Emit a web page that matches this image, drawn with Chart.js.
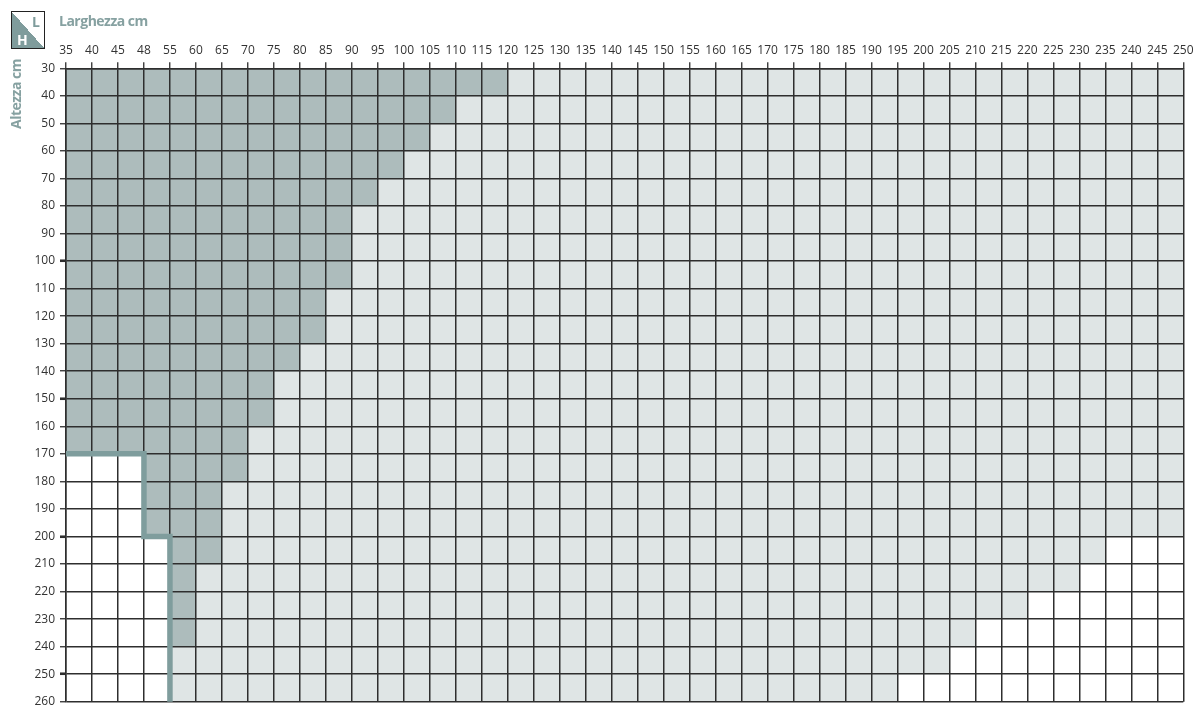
<!DOCTYPE html>
<html>
<head>
<meta charset="utf-8">
<title>Larghezza / Altezza</title>
<script src="https://cdn.jsdelivr.net/npm/chart.js@4.4.1/dist/chart.umd.min.js"></script>
<style>
  html, body { margin: 0; padding: 0; background: #fff; }
  .wrap { position: relative; width: 1196px; height: 706px; font-family: "Open Sans", sans-serif; }
  .wrap canvas { position: absolute; left: 0; top: 0; }
  .corner {
    position: absolute; left: 11px; top: 11px; width: 32px; height: 36px;
    border: 1.5px solid #222;
    background: linear-gradient(to top right, #7f9c9c 50%, #fff 50%);
  }
  .corner span { position: absolute; font-weight: 700; font-size: 14px; line-height: 14px; }
  .corner .l { left: 20px; top: 3px; color: #7f9c9c; }
  .corner .h { left: 5px; top: 21px; color: #fff; }
  .title-x {
    position: absolute; left: 59px; top: 12px; font-weight: 700; font-size: 14px; line-height: 18px;
    letter-spacing: -0.5px; color: #86a1a1;
  }
  .title-y {
    position: absolute; left: 8px; top: 129px; font-weight: 700; font-size: 14px; line-height: 16px;
    letter-spacing: -0.5px; color: #86a1a1;
    transform-origin: left top; transform: rotate(-90deg); white-space: nowrap;
  }
</style>
</head>
<body>
<div class="wrap">
  <canvas id="grid" width="1196" height="706"></canvas>
  <div class="corner"><span class="l">L</span><span class="h">H</span></div>
  <div class="title-x">Larghezza cm</div>
  <div class="title-y">Altezza cm</div>
</div>
<script>
//width tick labels (grid lines), note 48 instead of 50
const widthLabels = [35, 40, 45, 48, 55, 60, 65, 70, 75, 80, 85, 90, 95, 100, 105, 110, 115, 120, 125, 130,
  135, 140, 145, 150, 155, 160, 165, 170, 175, 180, 185, 190, 195, 200, 205, 210, 215, 220, 225, 230,
  235, 240, 245, 250];

//height tick labels
const heightLabels = [30, 40, 50, 60, 70, 80, 90, 100, 110, 120, 130, 140, 150, 160, 170, 180, 190, 200,
  210, 220, 230, 240, 250, 260];

//for every column of cells: height where the dark zone stops
const darkTo = [170, 170, 170, 200, 240, 210, 180, 160, 140, 130, 110, 80, 70, 60, 50, 40, 40,
  30, 30, 30, 30, 30, 30, 30, 30, 30, 30, 30, 30, 30, 30, 30, 30, 30, 30, 30, 30, 30, 30, 30, 30, 30, 30];

//for every column of cells: height where the light zone stops (white below)
const lightTo = [170, 170, 170, 200,
  260, 260, 260, 260, 260, 260, 260, 260, 260, 260, 260, 260, 260, 260, 260, 260, 260, 260, 260, 260,
  260, 260, 260, 260, 260, 260, 260, 260,
  250, 250, 240, 230, 230, 220, 220, 210, 200, 200, 200];

//thick limit line (width, height)
const limitWidths = [35, 48, 48, 55, 55];
const limitHeights = [170, 170, 200, 200, 260];

const hMin = heightLabels[0];
const hMax = heightLabels[heightLabels.length - 1];

//bars sit in the middle of each cell column (index axis)
const darkData = darkTo.map((d, i) => ({ x: i + 0.5, y: [hMin, d] }));
const lightData = lightTo.map((l, i) => ({ x: i + 0.5, y: [darkTo[i], l] }));
const whiteData = lightTo.map((l, i) => ({ x: i + 0.5, y: [l, hMax] }));
const limitData = limitWidths.map((w, i) => ({ x: widthLabels.indexOf(w), y: limitHeights[i] }));

const gridColor = "#2e2e2e";
const tickFont = { family: "'Open Sans', sans-serif", size: 12 };
const boldTicks = [100, 150, 200, 250];

//grid is drawn over the cells, so paint the limit line once more on top
const lineOnTop = {
  id: "lineOnTop",
  afterDraw(chart) {
    const meta = chart.getDatasetMeta(3);
    chart.ctx.save();
    meta.controller.draw();
    chart.ctx.restore();
  },
};

new Chart(document.getElementById("grid"), {
  type: "bar",
  data: {
    datasets: [
      { label: "scuro", data: darkData, backgroundColor: "#adbcbc" },
      { label: "chiaro", data: lightData, backgroundColor: "#dfe5e5" },
      { label: "bianco", data: whiteData, backgroundColor: "#ffffff" },
      {
        type: "line",
        label: "limite",
        data: limitData,
        borderColor: "#7f9d9d",
        borderWidth: 5.5,
        pointRadius: 0,
        fill: false,
        tension: 0,
        borderCapStyle: "butt",
        borderJoinStyle: "miter",
      },
    ],
  },
  options: {
    responsive: false,
    animation: false,
    devicePixelRatio: 1,
    layout: { padding: { left: 0, top: 0, right: 12.7, bottom: 4.3 } },
    datasets: {
      bar: { grouped: false, barPercentage: 1, categoryPercentage: 1, borderWidth: 0 },
    },
    plugins: { legend: { display: false }, tooltip: { enabled: false } },
    scales: {
      x: {
        type: "linear",
        position: "top",
        min: 0,
        max: widthLabels.length - 1,
        offset: false,
        ticks: {
          stepSize: 1,
          autoSkip: false,
          maxRotation: 0,
          padding: 5,
          color: "#333",
          font: tickFont,
          callback: (v) => widthLabels[v],
        },
        grid: { z: 1, offset: false, color: gridColor, lineWidth: 1.5, tickLength: 6, tickWidth: 1.3 },
        border: { z: 1, color: gridColor, width: 1.5 },
        afterFit: (s) => {
          s.height = 68.3;
          s.paddingLeft = 0;
          s.paddingRight = 0;
        },
      },
      y: {
        type: "linear",
        reverse: true,
        min: hMin,
        max: hMax,
        ticks: {
          stepSize: 10,
          autoSkip: false,
          padding: 5,
          color: "#333",
          font: tickFont,
        },
        grid: {
          z: 1,
          color: gridColor,
          lineWidth: 1.5,
          tickLength: 6,
          tickWidth: (ctx) => (ctx.tick && boldTicks.includes(ctx.tick.value) ? 2.6 : 1.3),
        },
        border: { z: 1, color: gridColor, width: 1.5 },
        afterFit: (s) => {
          s.width = 66;
          s.paddingTop = 0;
          s.paddingBottom = 0;
        },
      },
    },
  },
  plugins: [lineOnTop],
});
</script>
</body>
</html>
